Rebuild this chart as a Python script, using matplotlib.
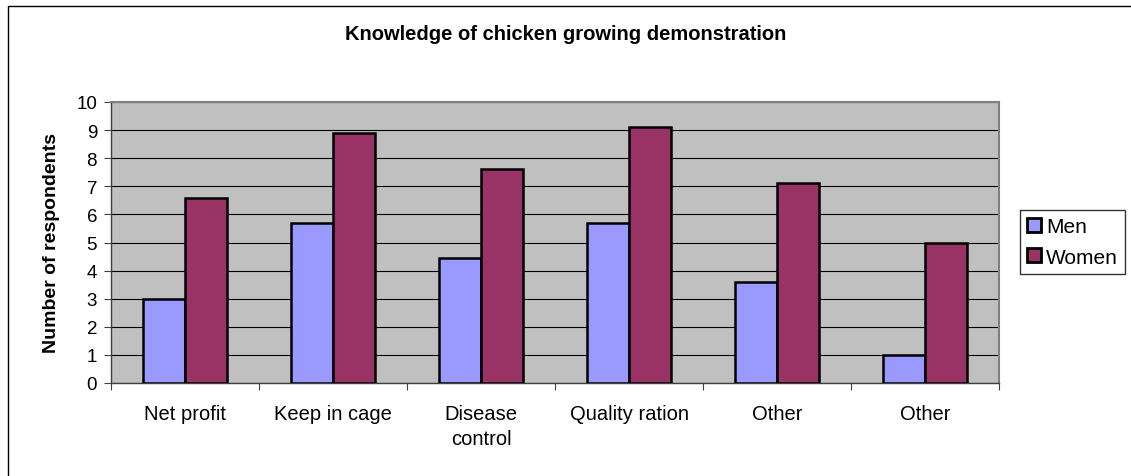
import matplotlib.pyplot as plt
import numpy as np
from matplotlib.patches import Rectangle

categories = ['Net profit', 'Keep in cage', 'Disease\ncontrol', 'Quality ration', 'Other', 'Other']
men = [3.0, 5.7, 4.45, 5.7, 3.6, 1.0]
women = [6.6, 8.9, 7.6, 9.1, 7.1, 5.0]

plt.rcParams['font.family'] = ['Liberation Sans', 'DejaVu Sans']

fig = plt.figure(figsize=(11.31, 4.77), dpi=100)
# chart border (right/bottom edges fall outside the picture)
fig.patches.append(Rectangle((8 / 1131, -0.1), 1.2, 1 - 7 / 477 + 0.1, transform=fig.transFigure,
                             fill=False, edgecolor='black', linewidth=1))

ax = fig.add_axes([111 / 1131, 93 / 477, 888 / 1131, 281 / 477])
ax.set_facecolor('#C0C0C0')

x = np.arange(len(categories))
w = 0.284
ax.bar(x - w / 2, men, w, color='#9999FF', edgecolor='black', linewidth=1.8, label='Men', zorder=3)
ax.bar(x + w / 2, women, w, color='#993366', edgecolor='black', linewidth=1.8, label='Women', zorder=3)

ax.set_xlim(-0.5, len(categories) - 0.5)
ax.set_ylim(0, 10)
ax.set_yticks(range(0, 11))
ax.yaxis.grid(True, color='black', linewidth=0.8, zorder=1)
ax.set_axisbelow(True)

ax.set_xticks(np.arange(-0.5, len(categories), 1.0))
ax.set_xticklabels([])
ax.set_xticks(x, minor=True)
ax.set_xticklabels(categories, minor=True, fontsize=14.5, linespacing=1.4)
ax.tick_params(axis='x', which='minor', length=0, pad=15)
ax.tick_params(axis='x', which='major', length=5, direction='out', color='#404040')
ax.tick_params(axis='y', length=5, direction='out', labelsize=13.5, pad=5, color='#404040')

for s in ['top', 'right']:
    ax.spines[s].set_color('#808080')
    ax.spines[s].set_linewidth(1.5)
for s in ['left', 'bottom']:
    ax.spines[s].set_color('#404040')
    ax.spines[s].set_linewidth(1)

ax.set_ylabel('Number of respondents', fontsize=14, fontweight='bold', labelpad=12)
fig.text(0.5, 1 - 35 / 477, 'Knowledge of chicken growing demonstration',
         ha='center', va='center', fontsize=14.5, fontweight='bold')

leg = fig.legend(loc='upper left', bbox_to_anchor=(1020 / 1131, 1 - 211 / 477), fontsize=15,
                 frameon=True, fancybox=False, edgecolor='black', handlelength=0.65,
                 handleheight=0.65, handletextpad=0.25, borderpad=0.35, borderaxespad=0,
                 labelspacing=0.55)
leg.get_frame().set_linewidth(1)
for h in leg.legend_handles:
    h.set_linewidth(2)

fig.savefig('out.png', dpi=100)
